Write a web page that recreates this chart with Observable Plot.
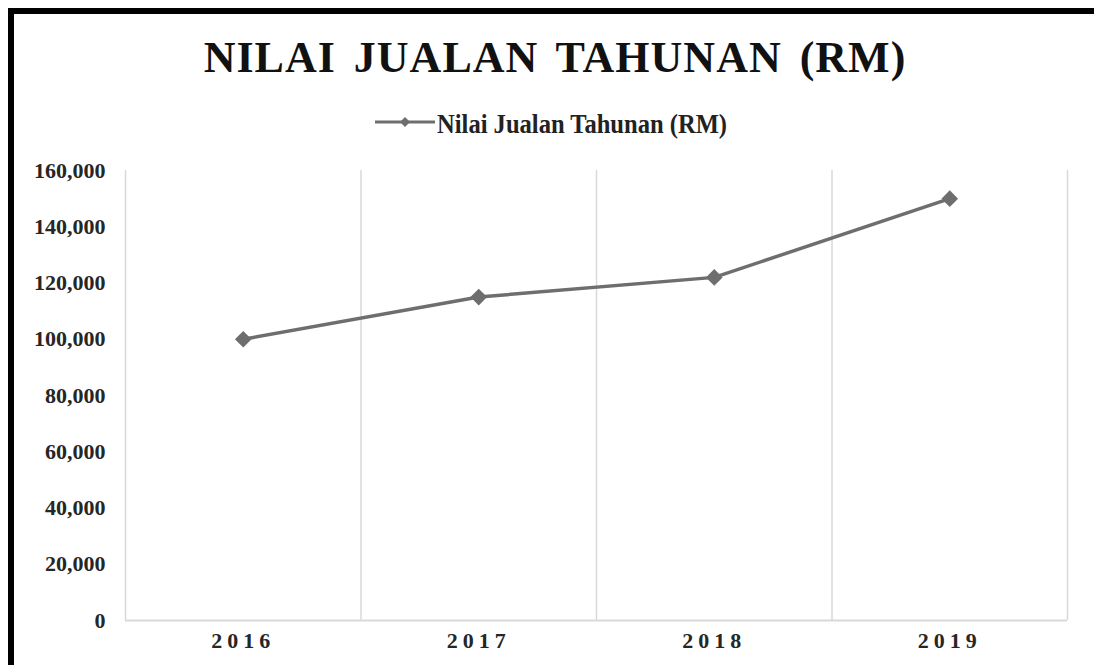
<!DOCTYPE html>
<html>
<head>
<meta charset="utf-8">
<script src="https://cdn.jsdelivr.net/npm/d3@7"></script>
<script src="https://cdn.jsdelivr.net/npm/@observablehq/plot@0.6"></script>
<style>
  html, body { margin: 0; padding: 0; background: #fff; width: 1094px; height: 665px; overflow: hidden; }
  #frame { position: absolute; left: 8px; top: 8px; width: 1200px; height: 800px;
           border-top: 6px solid #000; border-left: 6px solid #000; box-sizing: border-box; }
  #title { position: absolute; left: 0; top: 36px; width: 1110px; text-align: center;
           font-family: "Liberation Serif", "Times New Roman", serif; font-weight: bold;
           font-size: 44px; line-height: 44px; letter-spacing: 1px; word-spacing: 6px; color: #111; }
  #legend { position: absolute; left: 370px; top: 98px; }
  #chart { position: absolute; left: 0; top: 150px; }
  #chart svg text { font-weight: bold; }
  .xax text { letter-spacing: 5px; }
</style>
</head>
<body>
<div id="frame"></div>
<div id="title">NILAI JUALAN TAHUNAN (RM)</div>
<svg id="legend" width="430" height="52">
  <line x1="5" x2="65" y1="24" y2="24" stroke="#6e6e6e" stroke-width="3"></line>
  <polygon points="35,19 40,24 35,29 30,24" fill="#6e6e6e"></polygon>
  <text x="67" y="35" font-family="Liberation Serif, Times New Roman, serif" font-weight="bold"
        font-size="28" fill="#222" textLength="290" lengthAdjust="spacingAndGlyphs">Nilai Jualan Tahunan (RM)</text>
</svg>
<div id="chart"></div>
<script>
const years = [2016, 2017, 2018, 2019];
const values = [100000, 115000, 122000, 150000];
const yTicks = [0, 20000, 40000, 60000, 80000, 100000, 120000, 140000, 160000];
const yDomain = [0, 160000];

const data = years.map((year, i) => ({ year, value: values[i] }));
const boundaries = years.map(y => y - 0.5).concat(years[years.length - 1] + 0.5);

const chart = Plot.plot({
  width: 1094,
  height: 515,
  marginTop: 20,
  marginBottom: 45,
  marginLeft: 125,
  marginRight: 27,
  style: { fontFamily: "'Liberation Serif', 'Times New Roman', serif", fontSize: "22px", color: "#262626", background: "transparent" },
  x: { domain: [boundaries[0], boundaries[boundaries.length - 1]] },
  y: { domain: yDomain },
  marks: [
    Plot.gridX(boundaries, { stroke: "#d9d9d9", strokeOpacity: 1, strokeWidth: 1.5 }),
    Plot.ruleY([0], { stroke: "#d9d9d9", strokeWidth: 2 }),
    Plot.axisY({ ticks: yTicks, tickSize: 0, tickPadding: 20, tickFormat: d3.format(","), label: null, fontSize: 22 }),
    Plot.axisX({ ticks: years, tickSize: 0, tickPadding: 12, tickFormat: d => String(d), label: null, fontSize: 22, className: "xax" }),
    Plot.line(data, { x: "year", y: "value", stroke: "#6e6e6e", strokeWidth: 3.5 }),
    Plot.dot(data, { x: "year", y: "value", symbol: "diamond2", r: 7.5, fill: "#6e6e6e", stroke: "none" })
  ]
});
document.getElementById("chart").appendChild(chart);
</script>
</body>
</html>
